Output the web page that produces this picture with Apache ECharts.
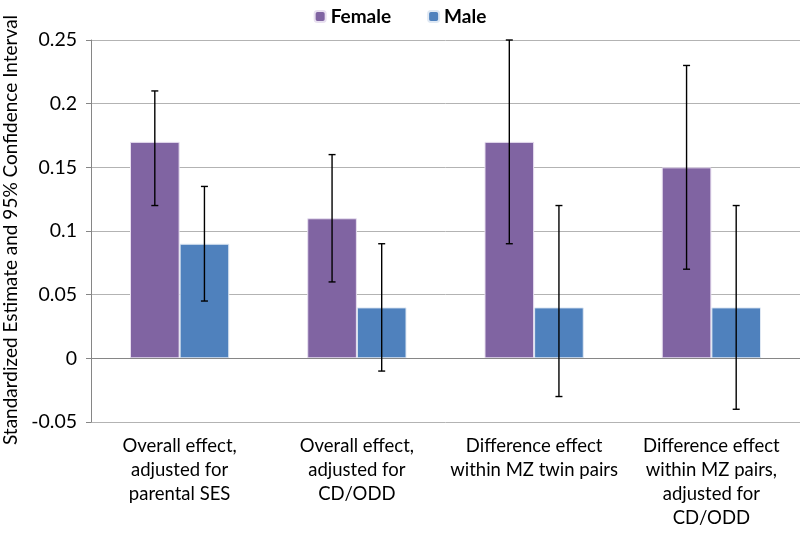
<!DOCTYPE html>
<html>
<head>
<meta charset="utf-8">
<script src="https://cdn.jsdelivr.net/npm/echarts@6/dist/echarts.min.js"></script>
<style>
  html, body { margin: 0; padding: 0; background: #fff; }
  #main { width: 800px; height: 533px; }
</style>
</head>
<body>
<div id="main"></div>
<script>
// 数据
const categories = [
    'Overall effect,\nadjusted for\nparental SES',
    'Overall effect,\nadjusted for\nCD/ODD',
    'Difference effect\nwithin MZ twin pairs',
    'Difference effect\nwithin MZ pairs,\nadjusted for\nCD/ODD'
];
const femaleValues = [0.17, 0.11, 0.17, 0.15];
const femaleLow = [0.12, 0.06, 0.09, 0.07];
const femaleHigh = [0.21, 0.16, 0.25, 0.23];
const maleValues = [0.09, 0.04, 0.04, 0.04];
const maleLow = [0.045, -0.01, -0.03, -0.04];
const maleHigh = [0.135, 0.09, 0.12, 0.12];
const yTicks = [-0.05, 0, 0.05, 0.1, 0.15, 0.2, 0.25];
const yTitle = 'Standardized Estimate and 95% Confidence Interval';

const chartDom = document.getElementById('main');
const myChart = echarts.init(chartDom);

const FONT = 'Lato';

// 误差线 (custom series)
function errorSeries(name, low, high, offsetIndex) {
    return {
        type: 'custom',
        name: name + ' CI',
        z: 10,
        data: categories.map(function (c, i) { return [i, low[i], high[i]]; }),
        renderItem: function (params, api) {
            const idx = api.value(0);
            const lo = api.coord([idx, api.value(1)]);
            const hi = api.coord([idx, api.value(2)]);
            const bandW = api.size([1, 0])[0];
            const barW = bandW * 0.28;
            const x = lo[0] + (offsetIndex === 0 ? -barW / 2 : barW / 2);
            const cap = 3.5;
            const style = { stroke: '#000', lineWidth: 1.4 };
            return {
                type: 'group',
                children: [
                    { type: 'line', shape: { x1: x, y1: hi[1], x2: x, y2: lo[1] }, style: style },
                    { type: 'line', shape: { x1: x - cap, y1: hi[1], x2: x + cap, y2: hi[1] }, style: style },
                    { type: 'line', shape: { x1: x - cap, y1: lo[1], x2: x + cap, y2: lo[1] }, style: style }
                ]
            };
        }
    };
}

const option = {
    animation: false,
    textStyle: { fontFamily: FONT },
    legend: {
        top: 2,
        left: 'center',
        itemWidth: 11,
        itemHeight: 11,
        itemGap: 36,
        data: ['Female', 'Male'],
        textStyle: { fontFamily: FONT, fontWeight: 'bold', fontSize: 19, color: '#000' }
    },
    // y轴标题
    graphic: [{
        type: 'text',
        x: 11,
        y: 230,
        rotation: Math.PI / 2,
        style: {
            text: yTitle,
            fontFamily: FONT,
            fontSize: 19,
            fill: '#000',
            textAlign: 'center',
            textVerticalAlign: 'middle'
        }
    }],
    grid: { left: 91, right: 0, top: 40, bottom: 111, containLabel: false, outerBoundsMode: 'none' },
    xAxis: {
        type: 'category',
        data: categories,
        axisLine: { show: false, onZero: false },
        axisTick: { show: false },
        axisLabel: {
            fontFamily: FONT, fontSize: 18.5, color: '#000',
            lineHeight: 24, margin: 12, interval: 0
        }
    },
    yAxis: {
        type: 'value',
        min: -0.05,
        max: 0.25,
        interval: 0.05,
        axisLine: { show: true, lineStyle: { color: '#868686', width: 1 } },
        axisTick: { show: true, length: 5, lineStyle: { color: '#868686' } },
        axisLabel: {
            fontFamily: FONT, fontSize: 19.5, color: '#000', margin: 14,
            formatter: function (v) {
                const r = Math.round(v * 1000) / 1000;
                return yTicks.indexOf(r) >= 0 ? String(r) : '';
            }
        },
        splitLine: { show: true, lineStyle: { color: '#b3b3b3', width: 1 } }
    },
    series: [
        {
            name: 'Female',
            type: 'bar',
            data: femaleValues,
            barWidth: '28%',
            barGap: '0%',
            itemStyle: { color: '#8064A2', borderColor: '#e8e0f0', borderWidth: 1 },
            markLine: {
                silent: true,
                symbol: 'none',
                label: { show: false },
                lineStyle: { color: '#868686', type: 'solid', width: 1.2 },
                data: [{ yAxis: 0 }]
            }
        },
        {
            name: 'Male',
            type: 'bar',
            data: maleValues,
            barWidth: '28%',
            barGap: '0%',
            itemStyle: { color: '#4F81BD', borderColor: '#dfe8f3', borderWidth: 1 }
        },
        errorSeries('Female', femaleLow, femaleHigh, 0),
        errorSeries('Male', maleLow, maleHigh, 1)
    ]
};

myChart.setOption(option);
</script>
</body>
</html>
